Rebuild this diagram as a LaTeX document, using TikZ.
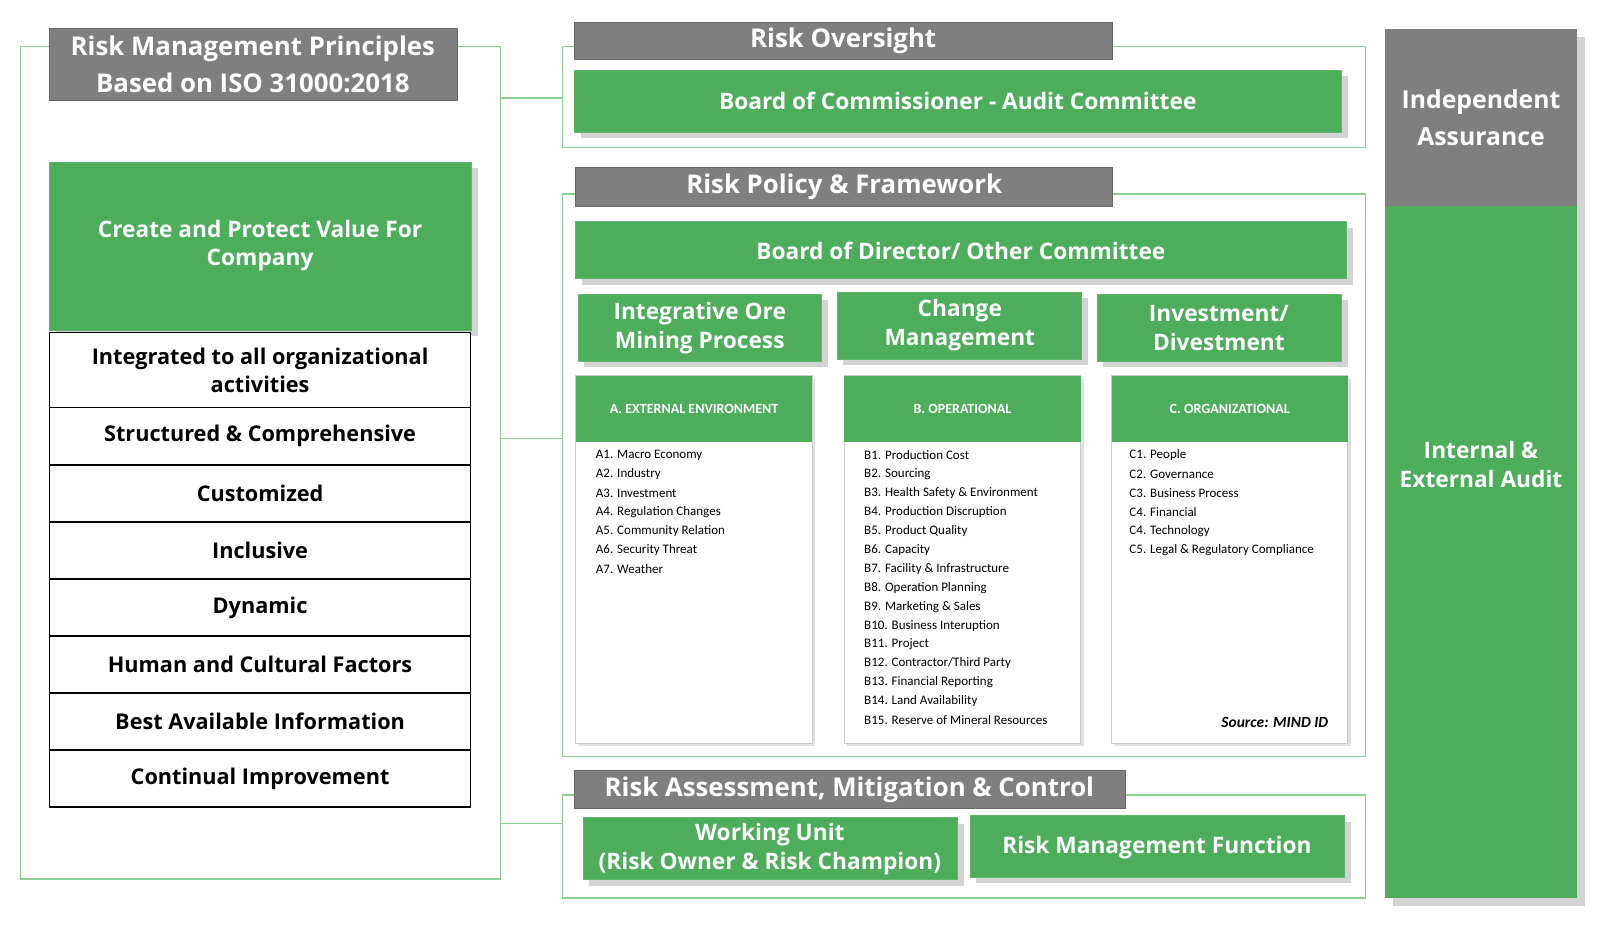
\documentclass[tikz,border=0pt]{standalone}
\usepackage{fontspec}
\setmainfont{Open Sans}
\newfontfamily\listfont{Carlito}
\usetikzlibrary{positioning, shadows}
\definecolor{riskgreen}{RGB}{78,173,91}
\definecolor{framegreen}{RGB}{140,208,150}
\definecolor{headgray}{RGB}{127,127,127}

\tikzset{
  frame/.style={draw=framegreen, line width=0.8pt},
  headbox/.style={fill=headgray, draw=headgray!80!black, line width=0.4pt},
  greenbox/.style={fill=riskgreen, draw=riskgreen!90!white, drop shadow={shadow xshift=3pt, shadow yshift=-3pt, opacity=0.35}},
  rowbox/.style={draw=black, line width=0.8pt, fill=white},
  wtext/.style={text=white, font=\bfseries\fontsize{11}{14}\selectfont, align=center},
  btext/.style={text=black, font=\bfseries\fontsize{10.5}{13.5}\selectfont, align=center},
  catbox/.style={fill=white, draw=black!20, drop shadow={shadow xshift=1.5pt, shadow yshift=-1.5pt, opacity=0.25}},
  item/.style={anchor=west, inner sep=0pt, font=\listfont\fontsize{6.3}{7}\selectfont}
}

\begin{document}
\begin{tikzpicture}[x=0.5pt, y=-0.5pt]
    \useasboundingbox (0,0) rectangle (1560,912);

    % Left column: principles
    \draw[frame] (20,45) rectangle (485,852);
    \draw[headbox] (48,28) rectangle (443,97);
    \node[wtext, font=\bfseries\fontsize{12.5}{18}\selectfont] (principles) at (245,62) {Risk Management Principles\\Based on ISO 31000:2018};
    \draw[greenbox] (48,157) rectangle (457,320);
    \node[wtext] (value) at (252,238) {Create and Protect Value For\\Company};
    \draw[rowbox] (48,322) rectangle (456,395);
    \node[btext] (row0) at (252,359) {Integrated to all organizational\\activities};
    \foreach \t [count=\i] in {Structured \& Comprehensive, Customized, Inclusive, Dynamic,
        Human and Cultural Factors, Best Available Information, Continual Improvement} {
      \draw[rowbox] (48,{395+(\i-1)*55.3}) rectangle (456,{395+\i*55.3});
      \node[btext] (row\i) at (252,{395+(\i-0.5)*55.3}) {\t};
    }

    % Links between left and right frames
    \coordinate (la) at (485,95);  \coordinate (ra) at (545,95);
    \coordinate (lb) at (485,425); \coordinate (rb) at (545,425);
    \coordinate (lc) at (485,798); \coordinate (rc) at (545,798);
    \draw[frame] (la) -- (ra);
    \draw[frame] (lb) -- (rb);
    \draw[frame] (lc) -- (rc);

    % Risk oversight
    \draw[frame] (545,45) rectangle (1323,143);
    \draw[headbox] (557,22) rectangle (1078,58);
    \node[wtext, font=\bfseries\fontsize{12.5}{15}\selectfont] (oversight) at (817,40) {Risk Oversight};
    \draw[greenbox] (557,68) rectangle (1300,128);
    \node[wtext] (board) at (928,98) {Board of Commissioner - Audit Committee};

    % Risk policy and framework
    \draw[frame] (545,188) rectangle (1323,733);
    \draw[headbox] (558,162) rectangle (1078,200);
    \node[wtext, font=\bfseries\fontsize{12.5}{15}\selectfont] (policy) at (818,181) {Risk Policy \& Framework};
    \draw[greenbox] (558,215) rectangle (1305,270);
    \node[wtext] (director) at (931,243) {Board of Director/ Other Committee};
    \draw[greenbox] (560,285) rectangle (796,350);
    \node[wtext] (ore) at (678,318) {Integrative Ore\\Mining Process};
    \draw[greenbox] (811,283) rectangle (1048,348);
    \node[wtext] (change) at (930,315) {Change\\Management};
    \draw[greenbox] (1063,285) rectangle (1300,350);
    \node[wtext] (invest) at (1181,318) {Investment/\\Divestment};

    % Risk categories
    \foreach \x/\n/\t in {558/A/A. EXTERNAL ENVIRONMENT, 818/B/B. OPERATIONAL, 1077/C/C. ORGANIZATIONAL} {
      \draw[catbox] (\x,364) rectangle (\x+229,720);
      \fill[riskgreen] (\x,364) rectangle (\x+229,428);
      \node[text=white, font=\bfseries\listfont\fontsize{6.8}{8}\selectfont] (cat\n) at (\x+114.5,396) {\t};
    }
    \foreach \t [count=\i] in {A1. Macro Economy, A2. Industry, A3. Investment, A4. Regulation Changes,
        A5. Community Relation, A6. Security Threat, A7. Weather}
      \node[item] (a\i) at (577,{441+(\i-1)*18.35}) {\t};
    \foreach \t [count=\i] in {B1. Production Cost, B2. Sourcing, B3. Health Safety \& Environment,
        B4. Production Discruption, B5. Product Quality, B6. Capacity, B7. Facility \& Infrastructure,
        B8. Operation Planning, B9. Marketing \& Sales, B10. Business Interuption, B11. Project,
        B12. Contractor/Third Party, B13. Financial Reporting, B14. Land Availability,
        B15. Reserve of Mineral Resources}
      \node[item] (b\i) at (837,{441+(\i-1)*18.35}) {\t};
    \foreach \t [count=\i] in {C1. People, C2. Governance, C3. Business Process, C4. Financial,
        C4. Technology, C5. Legal \& Regulatory Compliance}
      \node[item] (c\i) at (1094,{441+(\i-1)*18.35}) {\t};
    \node[anchor=east, font=\bfseries\itshape\listfont\fontsize{7.5}{9}\selectfont] (source) at (1294,700) {Source: MIND ID};

    % Risk assessment
    \draw[frame] (545,770) rectangle (1323,870);
    \draw[headbox] (557,746) rectangle (1090,783);
    \node[wtext, font=\bfseries\fontsize{12.5}{15}\selectfont] (assess) at (823,765) {Risk Assessment, Mitigation \& Control};
    \draw[greenbox] (565,792) rectangle (928,852);
    \node[wtext] (unit) at (746,823) {Working Unit\\(Risk Owner \& Risk Champion)};
    \draw[greenbox] (940,790) rectangle (1303,850);
    \node[wtext] (rmf) at (1121,821) {Risk Management Function};

    % Independent assurance
    \fill[riskgreen, drop shadow={shadow xshift=4pt, shadow yshift=-4pt, opacity=0.35}] (1342,28) rectangle (1528,870);
    \fill[headgray] (1342,28) rectangle (1528,200);
    \node[wtext, font=\bfseries\fontsize{12}{18}\selectfont] (indep) at (1435,114) {Independent\\Assurance};
    \node[wtext] (audit) at (1435,450) {Internal \&\\External Audit};
\end{tikzpicture}
\end{document}
